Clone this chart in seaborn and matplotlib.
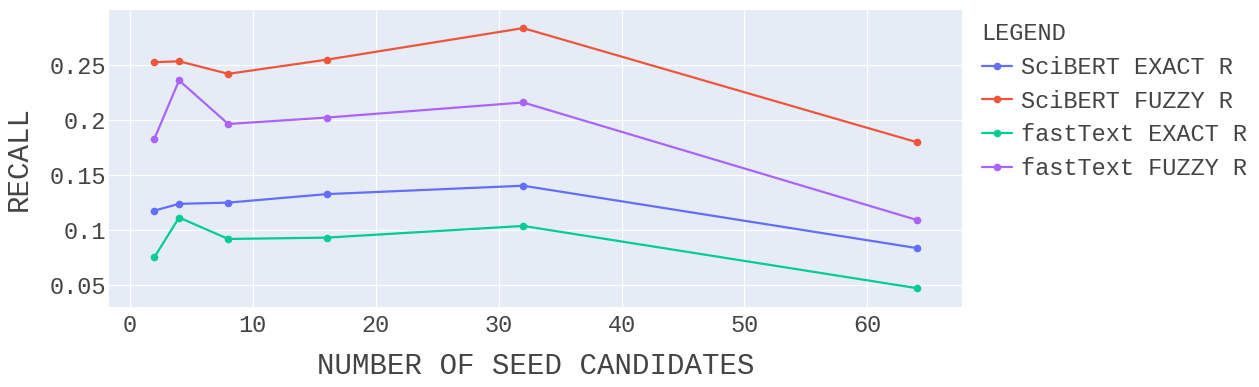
import matplotlib
matplotlib.use("Agg")
import matplotlib.pyplot as plt
import seaborn as sns
import pandas as pd

# ---- data ----
seed_candidates = [2, 4, 8, 16, 32, 64]
scibert_exact_r = [0.1178, 0.1239, 0.1250, 0.1327, 0.1403, 0.0839]
scibert_fuzzy_r = [0.2521, 0.2530, 0.2416, 0.2544, 0.2830, 0.1798]
fasttext_exact_r = [0.0757, 0.1115, 0.0921, 0.0933, 0.1039, 0.0476]
fasttext_fuzzy_r = [0.1830, 0.2357, 0.1962, 0.2020, 0.2157, 0.1094]
series_names = ["SciBERT EXACT R", "SciBERT FUZZY R", "fastText EXACT R", "fastText FUZZY R"]
series_values = [scibert_exact_r, scibert_fuzzy_r, fasttext_exact_r, fasttext_fuzzy_r]
x_ticks = [0, 10, 20, 30, 40, 50, 60]
y_ticks = [0.05, 0.1, 0.15, 0.2, 0.25]
y_tick_labels = ["0.05", "0.1", "0.15", "0.2", "0.25"]

rows = []
for name, vals in zip(series_names, series_values):
    for x, y in zip(seed_candidates, vals):
        rows.append({"x": x, "y": y, "series": name})
df = pd.DataFrame(rows)

palette = {"SciBERT EXACT R": "#636efa", "SciBERT FUZZY R": "#EF553B",
           "fastText EXACT R": "#00cc96", "fastText FUZZY R": "#ab63fa"}

sns.set_theme(style="darkgrid")
plt.rcParams["font.family"] = ["Liberation Mono", "DejaVu Sans Mono"]
txt = "#444444"

fig = plt.figure(figsize=(12.59, 3.87), dpi=100)
ax = fig.add_axes([109 / 1259, 1 - 307 / 387, (962 - 109) / 1259, (307 - 10) / 387])
ax.set_facecolor("#E5ECF6")

sns.lineplot(data=df, x="x", y="y", hue="series", palette=palette, marker="o",
             markersize=5.5, markeredgewidth=0, linewidth=1.6, ax=ax,
             hue_order=series_names)

ax.set_xlim(-1.7, 67.7)
ax.set_ylim(0.0305, 0.2994)
ax.set_xticks(x_ticks)
ax.set_yticks(y_ticks)
ax.set_yticklabels(y_tick_labels)
ax.grid(True, color="white", linewidth=0.9)
for s in ax.spines.values():
    s.set_visible(False)
ax.tick_params(axis="both", length=0, labelsize=17, colors=txt)
ax.tick_params(axis="y", pad=2)
ax.tick_params(axis="x", pad=5)
ax.set_xlabel("NUMBER OF SEED CANDIDATES", fontsize=21, color=txt, labelpad=11)
ax.set_ylabel("RECALL", fontsize=21, color=txt, labelpad=12)

leg = ax.legend(title="LEGEND", loc="upper left", bbox_to_anchor=(1.012, 0.99),
                frameon=False, fontsize=17, title_fontsize=17, handlelength=1.3,
                handletextpad=0.35, labelspacing=0.45, borderaxespad=0)
leg._legend_box.align = "left"
for t in leg.get_texts():
    t.set_color(txt)
leg.get_title().set_color(txt)

fig.savefig("out.png", dpi=100, facecolor="white")
